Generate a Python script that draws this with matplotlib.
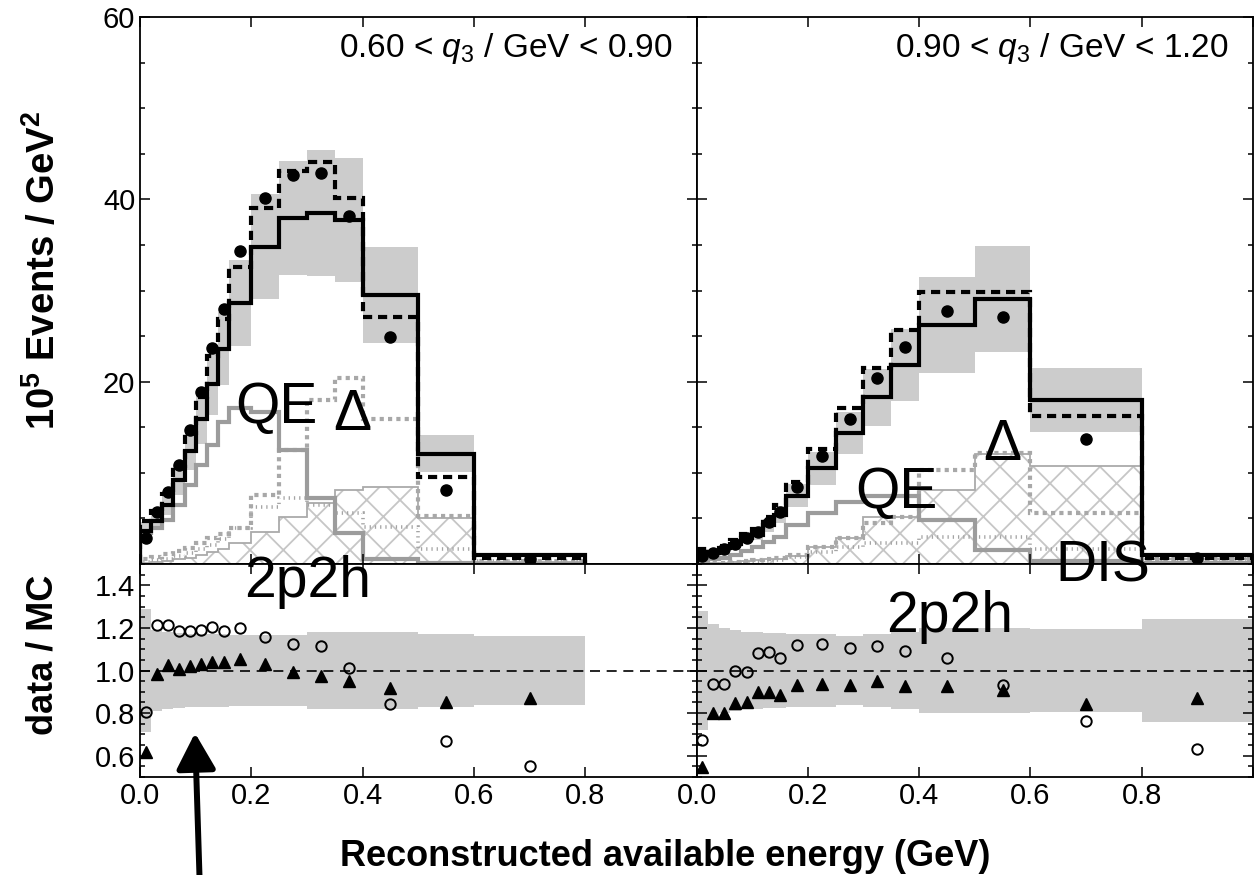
import matplotlib.pyplot as plt
import numpy as np
from matplotlib.ticker import MultipleLocator

plt.rcParams['font.family'] = 'Liberation Sans'
plt.rcParams['mathtext.fontset'] = 'custom'
plt.rcParams['mathtext.rm'] = 'Liberation Sans'
plt.rcParams['mathtext.it'] = 'Liberation Sans:italic'
plt.rcParams['mathtext.bf'] = 'Liberation Sans:bold'
plt.rcParams['hatch.linewidth'] = 1.3

# available energy binning (GeV)
edges_lo = [0, .02, .04, .06, .08, .10, .12, .14, .16, .20, .25, .30, .35, .40, .50, .60, .80]
edges_hi = [0, .02, .04, .06, .08, .10, .12, .14, .16, .20, .25, .30, .35, .40, .50, .60, .80, 1.0]

# 0.60 < q3 < 0.90 GeV
data_lo = [2.9, 5.7, 7.9, 10.9, 14.7, 18.9, 23.7, 28.0, 34.3, 40.2, 42.7, 42.9, 38.2, 24.9, 8.1, 0.55]
nominal_lo = [3.6, 4.7, 6.5, 9.2, 12.4, 15.9, 19.7, 23.6, 28.6, 34.8, 37.9, 38.5, 37.7, 29.5, 12.1, 1.0]
tuned_lo = [4.7, 5.8, 7.7, 10.8, 14.4, 18.3, 22.8, 26.9, 32.6, 39.0, 43.1, 44.1, 40.1, 27.1, 9.5, 0.63]
syst_lo = [0.29, 0.19, 0.18, 0.175, 0.17, 0.17, 0.17, 0.17, 0.165, 0.165, 0.165, 0.18, 0.18, 0.18, 0.17, 0.16]
qe_lo = [3.4, 3.9, 4.8, 6.5, 8.7, 10.9, 13.0, 15.6, 17.1, 16.7, 12.5, 7.2, 3.4, 0.6, 0.1, 0.0]
delta_lo = [0.5, 0.8, 1.1, 1.4, 1.8, 2.3, 2.8, 3.3, 3.9, 7.6, 12.5, 18.0, 20.4, 15.9, 5.3, 0.3]
mec_lo = [0.1, 0.2, 0.3, 0.5, 0.7, 1.0, 1.3, 1.7, 2.3, 3.5, 5.2, 6.7, 8.1, 8.4, 5.0, 0.2]
dis_lo = [0.2, 0.4, 0.6, 0.9, 1.2, 1.6, 2.1, 2.7, 4.0, 6.2, 7.2, 6.5, 5.6, 4.1, 1.7, 0.3]

# 0.90 < q3 < 1.20 GeV
data_hi = [0.88, 1.17, 1.6, 2.2, 2.8, 3.5, 4.6, 5.7, 8.4, 11.8, 15.9, 20.4, 23.8, 27.7, 27.1, 13.7, 0.62]
nominal_hi = [1.31, 1.25, 1.71, 2.21, 2.82, 3.23, 4.23, 5.39, 7.5, 10.5, 14.4, 18.3, 21.8, 26.2, 29.1, 18.0, 0.98]
tuned_hi = [1.61, 1.46, 2.0, 2.59, 3.29, 3.89, 5.11, 6.44, 9.03, 12.6, 17.1, 21.5, 25.7, 29.8, 29.8, 16.25, 0.71]
syst_hi = [0.28, 0.22, 0.20, 0.19, 0.18, 0.18, 0.175, 0.175, 0.17, 0.17, 0.16, 0.17, 0.18, 0.20, 0.20, 0.196, 0.24]
qe_hi = [0.3, 0.5, 0.7, 1.0, 1.4, 1.9, 2.4, 3.0, 4.3, 5.6, 6.8, 7.5, 7.5, 4.8, 1.5, 0.3, 0.1]
delta_hi = [0.05, 0.1, 0.15, 0.2, 0.3, 0.4, 0.5, 0.7, 1.0, 1.9, 2.9, 4.5, 5.2, 10.3, 12.2, 5.6, 0.5]
mec_hi = [0.05, 0.1, 0.15, 0.2, 0.3, 0.4, 0.5, 0.6, 0.9, 1.9, 2.8, 5.2, 5.2, 8.1, 12.1, 10.7, 0.5]
dis_hi = [0.02, 0.05, 0.08, 0.1, 0.15, 0.2, 0.3, 0.4, 0.8, 1.3, 1.9, 2.3, 2.3, 3.0, 3.0, 1.7, 0.5]

band_grey = '#cccccc'
comp_grey = '#9c9c9c'

fig = plt.figure(figsize=(12.55, 8.75), dpi=100)
x0, xm, x1 = 0.1116, 0.5550, 0.9984
yb, ym, yt = 0.1120, 0.3554, 0.9806
ax_lo = fig.add_axes([x0, ym, xm - x0, yt - ym])
ax_hi = fig.add_axes([xm, ym, x1 - xm, yt - ym])
rat_lo = fig.add_axes([x0, yb, xm - x0, ym - yb])
rat_hi = fig.add_axes([xm, yb, x1 - xm, ym - yb])


def draw_q3_bin(ax, axr, edges, data, nominal, tuned, syst, qe, delta, mec, dis, label):
    edges = np.array(edges)
    centers = 0.5 * (edges[1:] + edges[:-1])
    data = np.array(data)
    nominal = np.array(nominal)
    tuned = np.array(tuned)
    syst = np.array(syst)

    # event distribution
    ax.stairs(nominal * (1 + syst), edges, baseline=nominal * (1 - syst),
              fill=True, color=band_grey, lw=0)
    ax.stairs(mec, edges, baseline=0, fill=True, facecolor='none',
              edgecolor='#c6c6c6', hatch='x', lw=0)
    ax.stairs(mec, edges, color='#aaaaaa', lw=1.3)
    ax.stairs(dis, edges, color='#a4a4a4', lw=2.6, ls=(0, (0.35, 1.1)))
    ax.stairs(delta, edges, color='#a8a8a8', lw=3, ls=(0, (1, 1)))
    ax.stairs(qe, edges, color=comp_grey, lw=3)
    ax.stairs(nominal, edges, color='k', lw=3)
    ax.stairs(tuned, edges, color='k', lw=3, ls=(0, (2.2, 1.4)))
    ax.plot(centers, data, 'o', color='k', ms=8)
    ax.text(0.957, 0.927, label, transform=ax.transAxes, ha='right',
            va='baseline', fontsize=24)

    # data / MC
    axr.stairs(1 + syst, edges, baseline=1 - syst, fill=True, color=band_grey, lw=0)
    axr.axhline(1.0, color='k', lw=1.2, ls=(0, (6, 4)))
    axr.plot(centers, data / nominal, 'o', mfc='none', mec='k', mew=1.4, ms=7.5)
    axr.plot(centers, data / tuned, '^', color='k', ms=8.5)

    ax.set_xlim(0, 1)
    ax.set_ylim(0, 60)
    axr.set_xlim(0, 1)
    axr.set_ylim(0.5, 1.5)
    ax.set_xticks(np.arange(0, 1.01, 0.2))
    ax.set_xticklabels([])
    ax.set_yticks([0, 20, 40, 60])
    ax.yaxis.set_minor_locator(MultipleLocator(5))
    axr.set_xticks(np.arange(0, 1.01, 0.2))
    axr.set_xticklabels(['0.0', '0.2', '0.4', '0.6', '0.8', ''])
    axr.set_yticks([0.6, 0.8, 1.0, 1.2, 1.4])
    axr.yaxis.set_minor_locator(MultipleLocator(0.05))
    for a in (ax, axr):
        a.tick_params(which='both', direction='in', top=True, right=True,
                      labelsize=21, width=1.1)
        a.tick_params(which='major', length=7.5)
        a.tick_params(which='minor', length=3.8)
        for s in a.spines.values():
            s.set_linewidth(1.3)


draw_q3_bin(ax_lo, rat_lo, edges_lo, data_lo, nominal_lo, tuned_lo, syst_lo,
            qe_lo, delta_lo, mec_lo, dis_lo, r'0.60 < $q_3$ / GeV < 0.90')
draw_q3_bin(ax_hi, rat_hi, edges_hi, data_hi, nominal_hi, tuned_hi, syst_hi,
            qe_hi, delta_hi, mec_hi, dis_hi, r'0.90 < $q_3$ / GeV < 1.20')

ax_lo.set_yticklabels(['', '20', '40', '60'])
rat_lo.set_yticklabels(['0.6', '0.8', '1.0', '1.2', '1.4'])
ax_hi.set_yticklabels([])
rat_hi.set_yticklabels([])

W, H = 1255.0, 875.0


def put(txt, px, py, **kw):
    fig.text(px / W, 1 - py / H, txt, ha='left', va='baseline', fontsize=41, **kw)


put('QE', 235, 423)
put('Δ', 333, 430)
put('2p2h', 244, 597)
put('QE', 855, 508)
put('Δ', 983, 460)
put('DIS', 1055, 582)
put('2p2h', 886, 632)

fig.text(43 / W, 1 - 270 / H, r'$\mathbf{10^{5}}$ Events / GeV$^{\mathbf{2}}$',
         rotation=90, ha='center', va='center', fontsize=27.5, fontweight='bold')
fig.text(43 / W, 1 - 655 / H, 'data / MC', rotation=90, ha='center', va='center',
         fontsize=26, fontweight='bold')
fig.text(665 / W, 1 - 857 / H, 'Reconstructed available energy (GeV)',
         ha='center', va='center', fontsize=26, fontweight='bold')

# arrow marking the low-energy region
rat_lo.annotate('', xy=(195 / W, 1 - 733 / H), xytext=(200 / W, -0.02),
                xycoords='figure fraction', textcoords='figure fraction',
                annotation_clip=False,
                arrowprops=dict(arrowstyle='-|>,head_length=2.2,head_width=1.2',
                                mutation_scale=10, lw=4.3, color='k',
                                shrinkA=0, shrinkB=0))

fig.savefig('out.png', dpi=100)
